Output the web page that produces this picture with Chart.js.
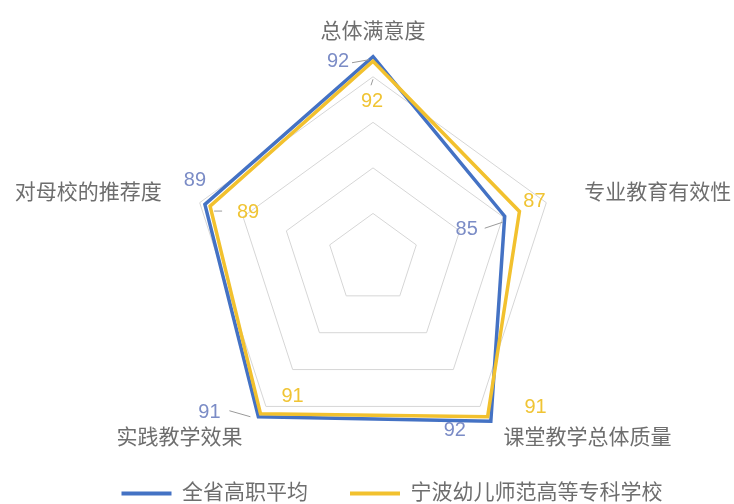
<!DOCTYPE html>
<html>
<head>
<meta charset="utf-8">
<script src="https://cdn.jsdelivr.net/npm/chart.js@4.4.1/dist/chart.umd.min.js"></script>
<style>
  html, body { margin: 0; padding: 0; background: #fff; }
  #wrap { width: 734px; height: 504px; position: relative; }
</style>
</head>
<body>
<div id="wrap"><canvas id="radarChart"></canvas></div>
<script>
const categories = ["总体满意度", "专业教育有效性", "课堂教学总体质量", "实践教学效果", "对母校的推荐度"];
const provinceAvg = [92.2, 85.2, 92.0, 91.4, 89.4];
const ningboSchool = [91.7, 86.9, 91.4, 91.0, 88.8];
const seriesNames = ["全省高职平均", "宁波幼儿师范高等专科学校"];

const BLUE = "#4472C4";
const YELLOW = "#F2C12E";
const FONT = "'Liberation Sans', 'Noto Sans CJK SC', sans-serif";

// where each value label sits relative to its point, plus optional leader line
const labelStyle = [
  {
    color: "#7b8cc6",
    offsets: [[-35, 5], [-38, 13], [-36, 9], [-49, -4], [-10, -24]],
    leaders: [[-21, 6, -4, 3], [-20, 12, -2, 6], null, [-29, -6, -8, 0], null]
  },
  {
    color: "#F0C434",
    offsets: [[-1, 40], [15, -10], [48, -9], [32, -17], [38, 6]],
    leaders: [[-2, 24, 0, 18], null, null, null, [4, 5, 12, 5]]
  }
];

const valueLabels = {
  id: "valueLabels",
  afterDatasetsDraw(chart) {
    const ctx = chart.ctx;
    ctx.save();
    ctx.font = "20px " + FONT;
    ctx.textAlign = "center";
    ctx.textBaseline = "middle";
    chart.data.datasets.forEach((ds, di) => {
      const meta = chart.getDatasetMeta(di);
      const st = labelStyle[di];
      meta.data.forEach((pt, i) => {
        const lead = st.leaders[i];
        if (lead) {
          ctx.strokeStyle = "#9a9a9a";
          ctx.lineWidth = 1;
          ctx.beginPath();
          ctx.moveTo(pt.x + lead[0], pt.y + lead[1]);
          ctx.lineTo(pt.x + lead[2], pt.y + lead[3]);
          ctx.stroke();
        }
        ctx.fillStyle = st.color;
        ctx.fillText(Math.round(ds.data[i]), pt.x + st.offsets[i][0], pt.y + st.offsets[i][1]);
      });
    });
    ctx.restore();
  }
};

// category labels drawn around the radar using the scale's own positions
const axisLabels = {
  id: "axisLabels",
  afterDraw(chart) {
    const scale = chart.scales.r;
    const ctx = chart.ctx;
    ctx.save();
    ctx.font = "21px " + FONT;
    ctx.fillStyle = "#6e6e6e";
    ctx.textBaseline = "middle";
    categories.forEach((txt, i) => {
      const p = scale.getPointPosition(i, scale.drawingArea + 17);
      let dy = 0;
      if (Math.abs(p.x - scale.xCenter) < 2) {
        ctx.textAlign = "center";
        dy = p.y < scale.yCenter ? -5 : 5;
      } else {
        ctx.textAlign = p.x > scale.xCenter ? "left" : "right";
        if (p.y < scale.yCenter) dy = 3;
      }
      ctx.fillText(txt, p.x, p.y + dy);
    });
    ctx.restore();
  }
};

const ctx = document.getElementById("radarChart").getContext("2d");
new Chart(ctx, {
  type: "radar",
  data: {
    labels: categories,
    datasets: [
      {
        label: seriesNames[0],
        data: provinceAvg,
        borderColor: BLUE,
        backgroundColor: BLUE,
        borderWidth: 3.5,
        fill: false,
        pointRadius: 0,
        order: 1,
        clip: false
      },
      {
        label: seriesNames[1],
        data: ningboSchool,
        borderColor: YELLOW,
        backgroundColor: YELLOW,
        borderWidth: 3.5,
        fill: false,
        pointRadius: 0,
        order: 0,
        clip: false
      }
    ]
  },
  options: {
    responsive: true,
    maintainAspectRatio: false,
    animation: false,
    layout: { padding: { top: 0, left: 50, right: 0, bottom: -10 } },
    scales: {
      r: {
        min: 70,
        max: 92.5,
        ticks: { display: false, stepSize: 5 },
        angleLines: { display: false },
        pointLabels: { display: false },
        grid: {
          color: c => (c.tick && c.tick.value > 90 ? "rgba(0,0,0,0)" : "#d6d6d6"),
          lineWidth: 1
        },
        // pin the radar's centre and radius independent of the legend's box
        afterFit: s => {
          s.xCenter = 373;
          s.yCenter = 259;
          s.drawingArea = 205;
        }
      }
    },
    plugins: {
      tooltip: { enabled: false },
      legend: {
        position: "bottom",
        labels: {
          boxWidth: 50,
          boxHeight: 4,
          padding: 42,
          color: "#6e6e6e",
          font: { size: 21, family: FONT },
          sort: (a, b) => a.datasetIndex - b.datasetIndex,
          generateLabels(chart) {
            const items = Chart.defaults.plugins.legend.labels.generateLabels(chart);
            items.forEach(it => {
              it.fillStyle = it.strokeStyle;
              it.lineWidth = 0;
            });
            return items;
          }
        }
      }
    }
  },
  plugins: [valueLabels, axisLabels]
});
</script>
</body>
</html>
